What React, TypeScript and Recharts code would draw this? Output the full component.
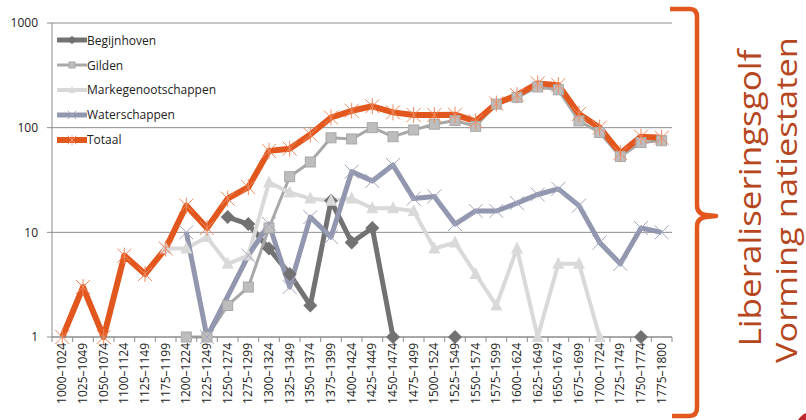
import React from "react";
import { LineChart, Line, XAxis, YAxis, CartesianGrid, Legend } from "recharts";

// ── data ─────────────────────────────────────────────────────────────────────

const periods = [
  "1000–1024", "1025–1049", "1050–1074", "1100–1124", "1125–1149", "1175–1199",
  "1200–1224", "1225–1249", "1250–1274", "1275–1299", "1300–1324", "1325–1349",
  "1350–1374", "1375–1399", "1400–1424", "1425–1449", "1450–1474", "1475–1499",
  "1500–1524", "1525–1549", "1550–1574", "1575–1599", "1600–1624", "1625–1649",
  "1650–1674", "1675–1699", "1700–1724", "1725–1749", "1750–1774", "1775–1800",
];

const begijnhoven = [
  null, null, null, null, null, null, null, null, 14, 12, 7, 4, 2, 20, 8, 11, 1,
  null, null, 1, null, null, null, null, null, null, null, null, 1, null,
];
const gilden = [
  null, null, null, null, null, null, 1, 1, 2, 3, 11, 34, 47, 80, 78, 100, 82, 95,
  108, 117, 103, 168, 195, 245, 230, 116, 90, 53, 72, 75,
];
const markegenootschappen = [
  null, null, null, null, null, 7, 7, 9, 5, 6, 30, 24, 21, 20, 21, 17, 17, 16, 7,
  8, 4, 2, 7, 1, 5, 5, 1, null, null, null,
];
const waterschappen = [
  null, null, null, null, null, null, 10, 1, null, 6, 12, 3, 14, 9, 38, 31, 44, 21,
  22, 12, 16, 16, 19, 23, 26, 18, 8, 5, 11, 10,
];
const totaal = [
  1, 3, 1, 6, 4, 7, 18, 11, 21, 27, 60, 63, 86, 125, 145, 160, 140, 132, 132, 133,
  115, 170, 205, 265, 255, 135, 100, 57, 82, 80,
];

const yTicks = [1, 10, 100, 1000];

// ── series styling ───────────────────────────────────────────────────────────

type MarkerKind = "diamond" | "square" | "triangle" | "cross" | "star";
type SeriesDef = {
  key: string;
  values: (number | null)[];
  color: string;
  width: number;
  marker: MarkerKind;
  markerColor: string;
  connect?: boolean;
};

const series: SeriesDef[] = [
  { key: "Begijnhoven", values: begijnhoven, color: "#727272", width: 5, marker: "diamond", markerColor: "#727272" },
  { key: "Gilden", values: gilden, color: "#a8a8a8", width: 3, marker: "square", markerColor: "#bdbdbd" },
  { key: "Markegenootschappen", values: markegenootschappen, color: "#d9d9d9", width: 4, marker: "triangle", markerColor: "#d9d9d9" },
  { key: "Waterschappen", values: waterschappen, color: "#9296ae", width: 5, marker: "cross", markerColor: "#a3a6bf", connect: true },
  { key: "Totaal", values: totaal, color: "#e2571d", width: 6, marker: "star", markerColor: "#f08a60" },
];

const chartData = periods.map((period, i) => {
  const row: Record<string, string | number | null> = { period };
  series.forEach((s) => (row[s.key] = s.values[i]));
  return row;
});

const FONT = "'Open Sans', sans-serif";
const GRID = "#8c8c8c";
const PLOT_W = 620;
const BAND = PLOT_W / periods.length;

// ── markers ──────────────────────────────────────────────────────────────────

function Marker({ kind, cx, cy, color, edge, s = 1 }: { kind: MarkerKind; cx: number; cy: number; color: string; edge: string; s?: number }) {
  switch (kind) {
    case "diamond":
      return <polygon points={`${cx},${cy - 7 * s} ${cx + 7 * s},${cy} ${cx},${cy + 7 * s} ${cx - 7 * s},${cy}`} fill={color} />;
    case "square":
      return <rect x={cx - 5 * s} y={cy - 5 * s} width={10 * s} height={10 * s} fill={color} stroke={edge} strokeWidth={1} />;
    case "triangle":
      return <polygon points={`${cx},${cy - 7 * s} ${cx + 6 * s},${cy + 5 * s} ${cx - 6 * s},${cy + 5 * s}`} fill={color} />;
    case "cross":
      return (
        <path d={`M${cx - 7 * s},${cy - 7 * s}L${cx + 7 * s},${cy + 7 * s}M${cx + 7 * s},${cy - 7 * s}L${cx - 7 * s},${cy + 7 * s}`}
          stroke={color} strokeWidth={1} fill="none" />
      );
    default:
      return (
        <path d={`M${cx - 7 * s},${cy - 7 * s}L${cx + 7 * s},${cy + 7 * s}M${cx + 7 * s},${cy - 7 * s}L${cx - 7 * s},${cy + 7 * s}M${cx},${cy - 8 * s}L${cx},${cy + 8 * s}`}
          stroke={color} strokeWidth={1} fill="none" />
      );
  }
}

function makeDot(s: SeriesDef) {
  return (props: any) => {
    const { cx, cy, value, index } = props;
    if (value == null || cy == null || Number.isNaN(cy)) return <g key={`${s.key}-${index}`} />;
    return (
      <g key={`${s.key}-${index}`}>
        <Marker kind={s.marker} cx={cx} cy={cy} color={s.markerColor} edge={s.color} />
      </g>
    );
  };
}

// ── axis ticks ───────────────────────────────────────────────────────────────

function PeriodTick(props: any) {
  const { x, y, payload, index } = props;
  const axisY = y - 6;
  const last = index === periods.length - 1;
  return (
    <g>
      <line x1={x - BAND / 2} x2={x - BAND / 2} y1={axisY} y2={axisY + 5} stroke={GRID} />
      {last && <line x1={x + BAND / 2} x2={x + BAND / 2} y1={axisY} y2={axisY + 5} stroke={GRID} />}
      <text x={x + 4} y={y} transform={`rotate(-90 ${x + 4} ${y})`} textAnchor="end"
        fontFamily={FONT} fontSize={12} fill="#222">
        {payload.value}
      </text>
    </g>
  );
}

// ── legend ───────────────────────────────────────────────────────────────────

function SeriesLegend() {
  return (
    <div style={{ fontFamily: FONT, fontSize: 12, color: "#222" }}>
      {series.map((s) => (
        <div key={s.key} style={{ height: 24.8, display: "flex", alignItems: "center" }}>
          <svg width={30} height={14} style={{ display: "block" }}>
            <line x1={1} x2={29} y1={7} y2={7} stroke={s.color} strokeWidth={s.width} strokeLinecap="round" />
            <Marker kind={s.marker} cx={15} cy={7} color={s.markerColor} edge={s.color} s={0.6} />
          </svg>
          <span>{s.key}</span>
        </div>
      ))}
    </div>
  );
}

// ── main ─────────────────────────────────────────────────────────────────────

export default function App() {
  return (
    <div style={{ position: "absolute", left: 0, top: 0, width: 806, height: 420, overflow: "hidden", background: "#fff" }}>
      <LineChart width={806} height={420} data={chartData} margin={{ top: 23, right: 134, bottom: 0, left: 0 }}>
        <CartesianGrid vertical={false} stroke={GRID} />
        <XAxis dataKey="period" interval={0} height={83} tick={<PeriodTick />} tickLine={false}
          padding={{ left: BAND / 2, right: BAND / 2 }}
          tickSize={5} tickMargin={1} axisLine={{ stroke: GRID }} />
        <YAxis scale="log" domain={[1, 1000]} ticks={yTicks} width={52}
          tickSize={5} tickMargin={9} axisLine={{ stroke: GRID }} tickLine={{ stroke: GRID }}
          tick={{ fontFamily: FONT, fontSize: 12, fill: "#222" }} />
        {series.map((s) => (
          <Line key={s.key} dataKey={s.key} type="linear" stroke={s.color} strokeWidth={s.width}
            strokeLinejoin="round" dot={makeDot(s)} activeDot={false} connectNulls={!!s.connect}
            isAnimationActive={false} />
        ))}
        <Legend layout="vertical" align="center" verticalAlign="middle" content={<SeriesLegend />}
          wrapperStyle={{ top: 28, left: 57, width: 200, height: 126 }} />
      </LineChart>

      {/* brace and annotation */}
      <svg width={806} height={420} style={{ position: "absolute", left: 0, top: 0, pointerEvents: "none" }}>
        <path d="M670,9 L690,9 Q697,9 697,17 L697,205 Q697,214 706,215 L716,216 L706,217 Q697,218 697,227 L697,408 Q697,416 689,416 L672,416"
          fill="none" stroke="#e2571d" strokeWidth={4.5} strokeLinejoin="round" />
        <text transform="translate(761 198) rotate(-90)" textAnchor="middle" fontFamily={FONT} fontSize={31}
          fill="#b5461d" textLength={297} lengthAdjust="spacingAndGlyphs">
          Liberaliseringsgolf
        </text>
        <text transform="translate(797 200) rotate(-90)" textAnchor="middle" fontFamily={FONT} fontSize={30}
          fill="#b5461d" textLength={326} lengthAdjust="spacingAndGlyphs">
          Vorming natiestaten
        </text>
        <circle cx={812} cy={428} r={16} fill="#c0272d" />
      </svg>
    </div>
  );
}
